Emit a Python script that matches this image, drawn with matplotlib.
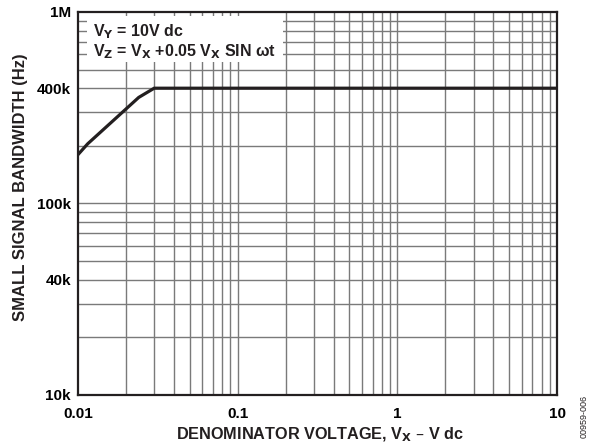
import matplotlib
matplotlib.use("Agg")
import matplotlib.pyplot as plt
import numpy as np

plt.rcParams['font.family'] = ['Liberation Sans', 'DejaVu Sans']
plt.rcParams['font.weight'] = 'bold'
plt.rcParams['mathtext.default'] = 'bf'

vx = [0.01, 0.0115, 0.024, 0.03, 10]
bw = [180e3, 205e3, 358e3, 400e3, 400e3]

xticks = [0.01, 0.1, 1, 10]
xticklabels = ['0.01', '0.1', '1', '10']
yticks = [10e3, 40e3, 100e3, 400e3, 1e6]
yticklabels = ['10k', '40k', '100k', '400k', '1M']

GRID = '#7a7a7a'
INK = '#231f20'

fig = plt.figure(figsize=(5.93, 4.45), dpi=100)
ax = fig.add_axes([78/593, 1-395/445, (557-78)/593, (395-12)/445])
ax.set_xscale('log')
ax.set_yscale('log')
ax.set_xlim(0.01, 10)
ax.set_ylim(10e3, 1e6)

for dec in [0.01, 0.1, 1]:
    for m in range(1, 10):
        if dec*m > 0.01:
            ax.axvline(dec*m, color=GRID, lw=1.0, zorder=1)
for dec in [1e4, 1e5]:
    for m in range(1, 10):
        if dec*m > 1e4:
            ax.axhline(dec*m, color=GRID, lw=1.0, zorder=1)

ax.plot(vx, bw, color=INK, lw=2.3, zorder=3, solid_joinstyle='miter')

ax.set_xticks(xticks)
ax.set_xticklabels(xticklabels, fontsize=11, fontweight='bold')
ax.set_yticks(yticks)
ax.set_yticklabels(yticklabels, fontsize=11, fontweight='bold')
ax.minorticks_off()
ax.tick_params(axis='x', length=0, pad=8.5)
ax.tick_params(axis='y', length=0, pad=5)
for s in ax.spines.values():
    s.set_linewidth(1.6)
    s.set_color(INK)

fig.text(320/593, 1-435/445, 'DENOMINATOR VOLTAGE, V$_\\mathbf{X}$ – V dc',
         fontsize=11.7, fontweight='bold', ha='center', va='center', color=INK)
fig.text(20.5/593, 1-187.5/445, 'SMALL SIGNAL BANDWIDTH (Hz)', rotation=90,
         fontsize=12, fontweight='bold', ha='center', va='center', color=INK)

# legend box
box_ax = fig.add_axes([87/593, 1-62/445, (283-87)/593, (62-16)/445], zorder=5)
box_ax.set_facecolor('white')
box_ax.set_xticks([]); box_ax.set_yticks([])
for s in box_ax.spines.values():
    s.set_visible(False)
box_ax.text(6/196, (62-32)/46, 'V$_\\mathbf{Y}$ = 10V dc', fontsize=11.5,
            fontweight='bold', va='center', ha='left', transform=box_ax.transAxes, color=INK)
box_ax.text(6/196, (62-52)/46, 'V$_\\mathbf{Z}$ = V$_\\mathbf{X}$ +0.05 V$_\\mathbf{X}$ SIN ωt',
            fontsize=11.5, fontweight='bold', va='center', ha='left', transform=box_ax.transAxes, color=INK)

fig.text(584/593, 1-416/445, '00959-006', rotation=90, fontsize=6.5,
         fontweight='normal', ha='center', va='center', color=INK)

fig.savefig('out.png', dpi=100)
